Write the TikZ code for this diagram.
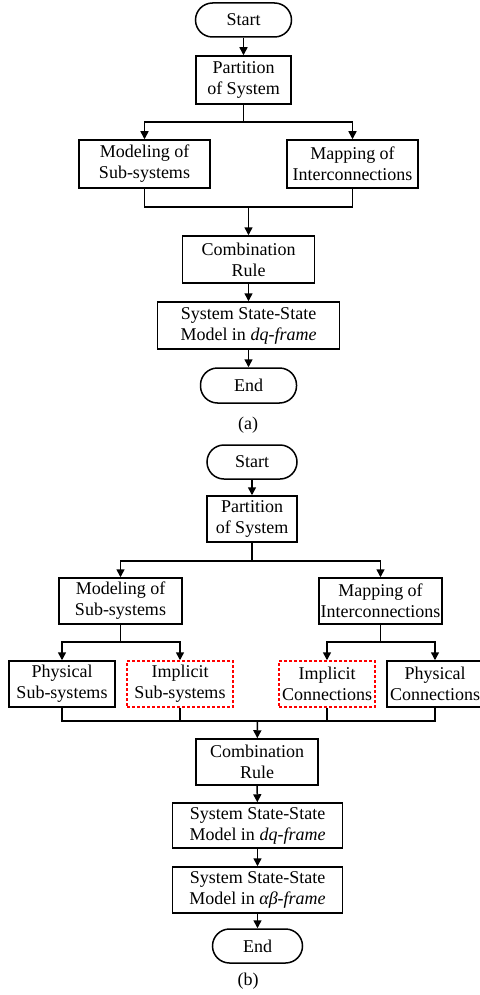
\documentclass[tikz,border=0pt]{standalone}
\usepackage{fontspec}
\setmainfont{Liberation Serif}
\usetikzlibrary{shapes,arrows.meta}

\tikzset{
  box/.style={draw, line width=1.5pt, align=center, inner sep=0pt,
    font=\fontsize{18}{21}\selectfont},
  term/.style={box, rounded corners=17pt},
  hint/.style={box, draw=red, dash pattern=on 3pt off 2pt},
  wire/.style={line width=1.5pt},
  arr/.style={wire, -{Triangle[length=8pt,width=8pt]}},
}

\begin{document}
\begin{tikzpicture}[x=1pt,y=-1pt]
\useasboundingbox (0,0) rectangle (479,995);

% (a) dq-frame flow
\node[term, minimum width=96pt, minimum height=34pt] (starta) at (243.5,20) {Start};
\node[box, minimum width=95pt, minimum height=48pt] (parta) at (243.5,80) {Partition\\of System};
\node[box, minimum width=131pt, minimum height=48pt] (moda) at (144.5,164) {Modeling of\\Sub-systems};
\node[box, minimum width=131pt, minimum height=48pt] (mapa) at (352.5,164) {Mapping of\\Interconnections};
\node[box, minimum width=132pt, minimum height=47pt] (comba) at (248.5,259.5) {Combination\\Rule};
\node[box, minimum width=182pt, minimum height=47pt] (dqa) at (248.5,325.5) {System State-State\\Model in \textit{dq-frame}};
\node[term, minimum width=96pt, minimum height=35pt] (enda) at (248.5,385.5) {End};
\node[font=\fontsize{18}{21}\selectfont] (capa) at (248,425) {(a)};

\coordinate (splita) at (243.5,122);
\coordinate (joina) at (248.5,207);
\draw[arr] (starta) -- (parta);
\draw[wire] (parta) -- (splita);
\draw[arr] (splita) -| (moda);
\draw[arr] (splita) -| (mapa);
\draw[wire] (moda) |- (joina) -| (mapa);
\draw[arr] (joina) -- (comba);
\draw[arr] (comba) -- (dqa);
\draw[arr] (dqa) -- (enda);

% (b) alpha-beta-frame flow
\node[term, minimum width=90pt, minimum height=34pt] (startb) at (252,462) {Start};
\node[box, minimum width=90pt, minimum height=46pt] (partb) at (252,519) {Partition\\of System};
\node[box, minimum width=123pt, minimum height=46pt] (modb) at (120.5,601) {Modeling of\\Sub-systems};
\node[box, minimum width=123pt, minimum height=46pt] (mapb) at (380.5,601) {Mapping of\\Interconnections};
\node[box, minimum width=106pt, minimum height=46pt] (physsub) at (62,684) {Physical\\Sub-systems};
\node[hint, minimum width=106pt, minimum height=46pt] (implsub) at (180,684) {Implicit\\Sub-systems};
\node[hint, minimum width=96pt, minimum height=46pt] (implcon) at (327,684) {Implicit\\Connections};
\node[box, minimum width=96pt, minimum height=46pt] (physcon) at (435,684) {Physical\\Connections};
\node[box, minimum width=122pt, minimum height=46pt] (combb) at (257,762) {Combination\\Rule};
\node[box, minimum width=170pt, minimum height=45pt] (dqb) at (257.5,825.5) {System State-State\\Model in \textit{dq-frame}};
\node[box, minimum width=170pt, minimum height=46pt] (abb) at (257.5,890) {System State-State\\Model in \textit{αβ-frame}};
\node[term, minimum width=90pt, minimum height=34pt] (endb) at (257.5,946) {End};
\node[font=\fontsize{18}{21}\selectfont] (capb) at (248,981) {(b)};

\coordinate (splitb) at (252,561);
\coordinate (splitc) at (120.5,642);
\coordinate (splitd) at (380.5,642);
\coordinate (joinb) at (257.5,721);
\draw[arr] (startb) -- (partb);
\draw[wire] (partb) -- (splitb);
\draw[arr] (splitb) -| (modb);
\draw[arr] (splitb) -| (mapb);
\draw[wire] (modb) -- (splitc);
\draw[arr] (splitc) -| (physsub);
\draw[arr] (splitc) -| (implsub);
\draw[wire] (mapb) -- (splitd);
\draw[arr] (splitd) -| (implcon);
\draw[arr] (splitd) -| (physcon);
\draw[wire] (physsub) |- (joinb) -| (physcon);
\draw[wire] (implsub) -- (implsub |- joinb);
\draw[wire] (implcon) -- (implcon |- joinb);
\draw[arr] (joinb) -- (combb);
\draw[arr] (combb) -- (dqb);
\draw[arr] (dqb) -- (abb);
\draw[arr] (abb) -- (endb);
\end{tikzpicture}
\end{document}
